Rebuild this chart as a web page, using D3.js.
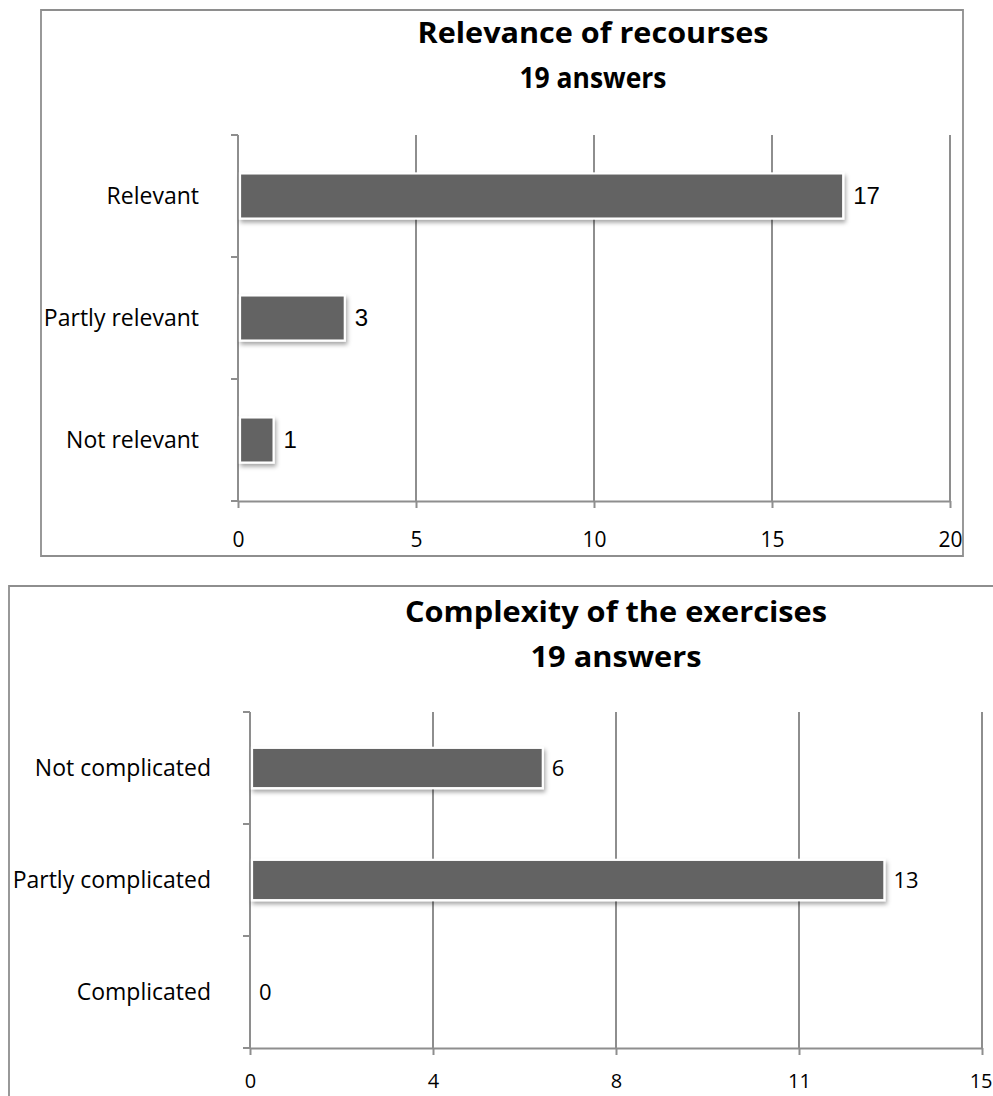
<!DOCTYPE html>
<html>
<head>
<meta charset="utf-8">
<script src="https://cdn.jsdelivr.net/npm/d3@7/dist/d3.min.js"></script>
<style>
  html, body { margin: 0; padding: 0; background: #fff; }
  svg { display: block; }
</style>
</head>
<body>
<script>
// ---- data: survey answers (19 respondents) ----
const relevanceCategories = ["Relevant", "Partly relevant", "Not relevant"];
const relevanceValues = [17, 3, 1];
const relevanceTicks = [0, 5, 10, 15, 20];
const relevanceTickLabels = ["0", "5", "10", "15", "20"];
const relevanceTitle = ["Relevance of recourses", "19 answers"];

const complexityCategories = ["Not complicated", "Partly complicated", "Complicated"];
const complexityValues = [6, 13, 0];
const complexityTicks = [0, 3.75, 7.5, 11.25, 15];
const complexityTickLabels = ["0", "4", "8", "11", "15"];
const complexityTitle = ["Complexity of the exercises", "19 answers"];

const W = 993, H = 1096;
const GRID = "#8e8e8e";
const BAR = "#646464";

const svg = d3.select("body").append("svg")
  .attr("width", W).attr("height", H);

const defs = svg.append("defs");
const f = defs.append("filter").attr("id", "barShadow")
  .attr("x", "-10%").attr("y", "-30%").attr("width", "130%").attr("height", "180%");
f.append("feDropShadow")
  .attr("dx", 1.5).attr("dy", 3).attr("stdDeviation", 2.2)
  .attr("flood-color", "#000").attr("flood-opacity", 0.35);

function drawChart(cfg) {
  const g = svg.append("g");

  // frame
  g.append("path")
    .attr("d", cfg.frame)
    .attr("fill", "none").attr("stroke", GRID).attr("stroke-width", 1.8);

  // title
  cfg.title.forEach((t, i) => {
    g.append("text")
      .attr("x", cfg.titleX).attr("y", cfg.titleY[i])
      .attr("text-anchor", "middle")
      .attr("font-family", "'Open Sans', sans-serif")
      .attr("font-weight", 700)
      .attr("font-size", cfg.titleSize)
      .attr("textLength", cfg.titleLen[i])
      .attr("lengthAdjust", "spacingAndGlyphs")
      .attr("fill", "#000")
      .text(t);
  });

  const x = d3.scaleLinear().domain(cfg.domain).range([cfg.left, cfg.right]);
  const y = d3.scaleBand().domain(cfg.categories).range([cfg.top, cfg.bottom])
    .paddingInner(cfg.pad).paddingOuter(cfg.pad / 2);

  // vertical gridlines
  g.append("g").selectAll("line").data(cfg.ticks.slice(1)).join("line")
    .attr("x1", d => x(d)).attr("x2", d => x(d))
    .attr("y1", cfg.top).attr("y2", cfg.bottom)
    .attr("stroke", GRID).attr("stroke-width", 2);

  // bottom axis
  const xAxis = d3.axisBottom(x)
    .tickValues(cfg.ticks)
    .tickFormat((d, i) => cfg.tickLabels[i])
    .tickSize(7).tickSizeOuter(0);
  const xa = g.append("g").attr("transform", `translate(0,${cfg.bottom})`).call(xAxis);
  xa.select(".domain").attr("stroke", GRID).attr("stroke-width", 2);
  xa.selectAll(".tick line").attr("stroke", GRID).attr("stroke-width", 2);
  xa.selectAll(".tick text")
    .attr("y", cfg.tickLabelY).attr("dy", 0)
    .attr("font-family", "'Open Sans', sans-serif")
    .attr("font-size", cfg.tickSize).attr("fill", "#000");
  // keep the outermost label inside the page edge
  if (cfg.lastTickEnd) {
    xa.selectAll(".tick text").filter((d, i) => i === cfg.ticks.length - 1)
      .attr("text-anchor", "end").attr("x", cfg.lastTickEnd - x(cfg.domain[1]));
  }

  // left axis with category boundary ticks
  const bounds = [cfg.top].concat(cfg.categories.map(c => y(c) + y.bandwidth() + y.step() * cfg.pad / 2));
  g.append("line")
    .attr("x1", x(0)).attr("x2", x(0)).attr("y1", cfg.top).attr("y2", cfg.bottom)
    .attr("stroke", GRID).attr("stroke-width", 2);
  g.append("g").selectAll("line").data(bounds).join("line")
    .attr("x1", x(0) - 7).attr("x2", x(0))
    .attr("y1", d => d).attr("y2", d => d)
    .attr("stroke", GRID).attr("stroke-width", 2);

  // category labels
  g.append("g").selectAll("text").data(cfg.categories).join("text")
    .attr("x", x(0) - 39)
    .attr("y", d => y(d) + y.bandwidth() / 2)
    .attr("dy", "0.35em")
    .attr("text-anchor", "end")
    .attr("font-family", "'Open Sans', sans-serif")
    .attr("font-size", 23).attr("fill", "#000")
    .text(d => d);

  const rows = cfg.categories.map((c, i) => ({ c, v: cfg.values[i] }));

  // bars
  g.append("g").selectAll("rect").data(rows.filter(d => d.v > 0)).join("rect")
    .attr("x", x(0) + 2)
    .attr("y", d => y(d.c))
    .attr("width", d => x(d.v) - x(0) - 2)
    .attr("height", y.bandwidth())
    .attr("fill", BAR)
    .attr("stroke", "#fff").attr("stroke-width", 2.2)
    .attr("filter", "url(#barShadow)");

  // value labels
  g.append("g").selectAll("text").data(rows).join("text")
    .attr("x", d => x(d.v) + cfg.valueGap)
    .attr("y", d => y(d.c) + y.bandwidth() / 2)
    .attr("dy", "0.35em")
    .attr("font-family", cfg.valueFont)
    .attr("font-size", cfg.valueSize).attr("fill", "#000")
    .text(d => d.v);
}

drawChart({
  frame: "M41,10 H963 V556 H41 Z",
  title: relevanceTitle, titleX: 593, titleY: [43, 88], titleLen: [351, 147], titleSize: 28,
  categories: relevanceCategories, values: relevanceValues,
  ticks: relevanceTicks, tickLabels: relevanceTickLabels,
  domain: [0, 20], left: 238, right: 950, top: 135, bottom: 501, pad: 0.63,
  tickLabelY: 46, tickSize: 21,
  valueGap: 10, valueFont: "'Liberation Sans', Arial, sans-serif", valueSize: 24
});

drawChart({
  frame: "M993,586 H9 V1096",
  title: complexityTitle, titleX: 616, titleY: [622, 667], titleLen: [422, 171], titleSize: 29,
  categories: complexityCategories, values: complexityValues,
  ticks: complexityTicks, tickLabels: complexityTickLabels,
  domain: [0, 15], left: 250, right: 982, top: 712, bottom: 1048, pad: 0.64,
  tickLabelY: 40, tickSize: 20, lastTickEnd: 992,
  valueGap: 9, valueFont: "'Open Sans', sans-serif", valueSize: 22
});
</script>
</body>
</html>
